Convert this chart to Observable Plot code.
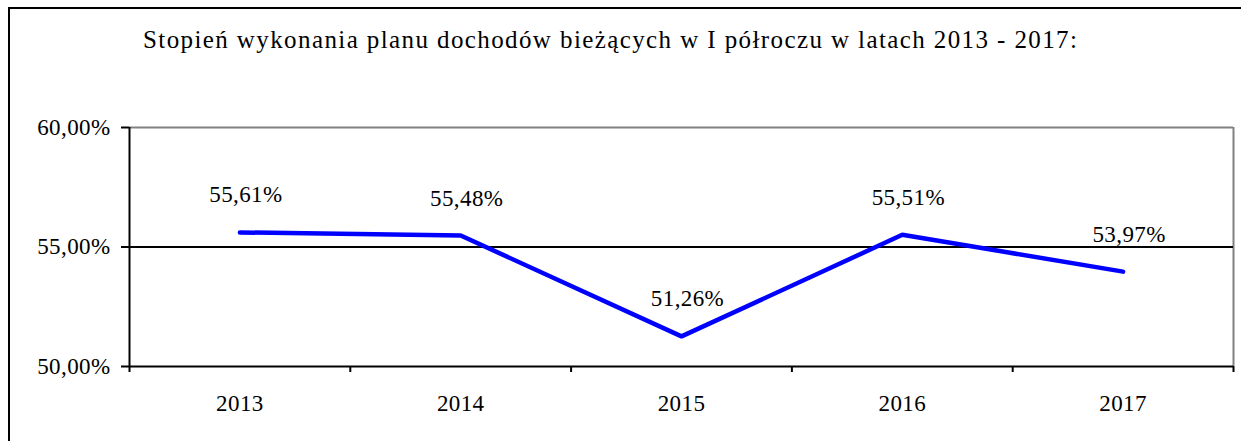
<!DOCTYPE html>
<html>
<head>
<meta charset="utf-8">
<script src="https://cdn.jsdelivr.net/npm/d3@7"></script>
<script src="https://cdn.jsdelivr.net/npm/@observablehq/plot@0.6"></script>
<style>
  html, body { margin: 0; padding: 0; background: #fff; }
  #wrap { position: relative; width: 1241px; height: 441px; overflow: hidden; font-family: 'Liberation Serif', 'Times New Roman', serif; }
  #frame { position: absolute; left: 8px; top: 7px; width: 1300px; height: 500px; border-left: 2px solid #000; border-top: 2px solid #000; box-sizing: border-box; }
  #title { position: absolute; left: 143px; top: 27px; font-size: 25px; letter-spacing: 1.4px; line-height: 1; color: #000; white-space: nowrap; }
  #chart { position: absolute; left: 0; top: 0; }
</style>
</head>
<body>
<div id="wrap">
  <div id="frame"></div>
  <div id="chart"></div>
  <div id="title"></div>
</div>
<script>
const titleText = "Stopień wykonania planu dochodów bieżących w I półroczu w latach 2013 - 2017:";
const years = ["2013", "2014", "2015", "2016", "2017"];
const values = [55.61, 55.48, 51.26, 55.51, 53.97];
const yTicks = [50, 55, 60];

document.getElementById("title").textContent = titleText;

const FONT = "'Liberation Serif', 'Times New Roman', serif";
const fmt = v => v.toFixed(2).replace(".", ",") + "%";
const data = years.map((y, i) => ({pos: i + 0.5, year: y, value: values[i]}));
const boundaries = d3.range(years.length + 1);
const centers = years.map((_, i) => i + 0.5);

const chart = Plot.plot({
  width: 1241,
  height: 441,
  marginLeft: 129,
  marginRight: 8,
  marginTop: 127,
  marginBottom: 75,
  style: {fontFamily: FONT, fontSize: "23px", letterSpacing: "0.4px", color: "#000", background: "transparent", overflow: "visible"},
  x: {type: "linear", domain: [0, years.length]},
  y: {type: "linear", domain: [yTicks[0], yTicks[yTicks.length - 1]]},
  marks: [
    Plot.ruleY([yTicks[yTicks.length - 1]], {stroke: "#808080", strokeWidth: 2}),
    Plot.ruleX([years.length], {stroke: "#808080", strokeWidth: 2}),
    Plot.ruleY([55], {stroke: "#000", strokeWidth: 2}),
    Plot.ruleY([yTicks[0]], {stroke: "#000", strokeWidth: 2}),
    Plot.ruleX([0], {stroke: "#000", strokeWidth: 2}),
    Plot.axisY({ticks: yTicks, tickSize: 8, tickPadding: 11, tickFormat: fmt, label: null, strokeWidth: 2, fontSize: 23, fontFamily: FONT}),
    Plot.axisX({ticks: boundaries, tickSize: 6, tickFormat: () => "", label: null, strokeWidth: 2}),
    Plot.axisX({ticks: centers, tickSize: 0, tickPadding: 28, tickFormat: d => years[Math.floor(d)], label: null, fontSize: 23, fontFamily: FONT}),
    Plot.line(data, {x: "pos", y: "value", stroke: "#0000ff", strokeWidth: 4.5, strokeLinecap: "round", strokeLinejoin: "miter"}),
    Plot.text(data, {x: "pos", y: "value", text: d => fmt(d.value), dx: 6, dy: -30, lineAnchor: "bottom", fontSize: 23, fontFamily: FONT, fill: "#000"})
  ]
});
document.getElementById("chart").appendChild(chart);
</script>
</body>
</html>
